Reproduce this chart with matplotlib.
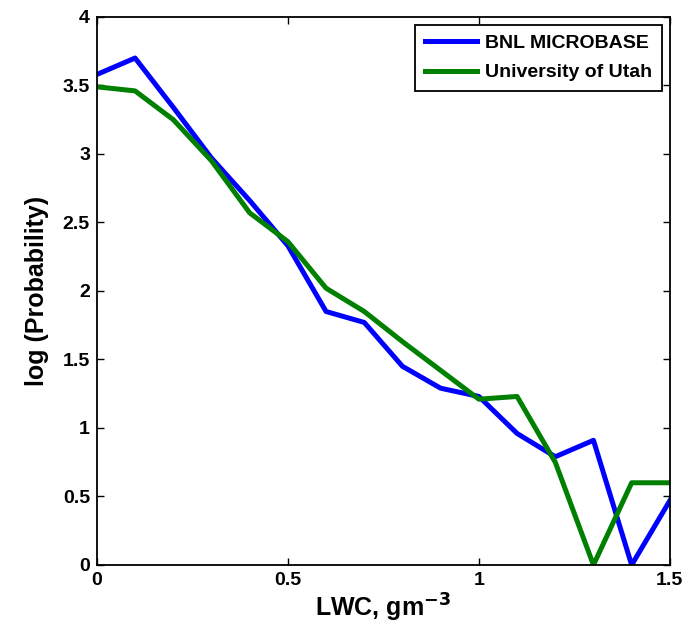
import matplotlib.pyplot as plt
import numpy as np

# LWC bins and log probability for the two retrievals
lwc = [0.0, 0.1, 0.2, 0.3, 0.4, 0.5, 0.6, 0.7, 0.8, 0.9, 1.0, 1.1, 1.2, 1.3, 1.4, 1.5]
bnl = [3.58, 3.70, 3.34, 2.97, 2.66, 2.33, 1.85, 1.77, 1.45, 1.29, 1.23, 0.96, 0.79, 0.91, 0.0, 0.47]
utah = [3.49, 3.46, 3.25, 2.95, 2.57, 2.36, 2.02, 1.85, 1.63, 1.42, 1.21, 1.23, 0.75, 0.0, 0.60, 0.60]

x_ticks = [0, 0.5, 1, 1.5]
x_tick_labels = ['0', '0.5', '1', '1.5']
y_ticks = [0, 0.5, 1, 1.5, 2, 2.5, 3, 3.5, 4]
y_tick_labels = ['0', '0.5', '1', '1.5', '2', '2.5', '3', '3.5', '4']

plt.rcParams['font.family'] = ['Liberation Sans', 'DejaVu Sans']
plt.rcParams['font.weight'] = 'bold'

fig = plt.figure(figsize=(6.92, 6.41), dpi=100)
ax = fig.add_axes([0.140, 0.1186, 0.828, 0.855])

ax.plot(lwc, bnl, color=(0, 0, 1), linewidth=3.6, label='BNL MICROBASE')
ax.plot(lwc, utah, color=(0, 0.5, 0), linewidth=3.6, label='University of Utah')

ax.set_xlim(0, 1.5)
ax.set_ylim(0, 4)
ax.set_xticks(x_ticks)
ax.set_xticklabels(x_tick_labels, fontsize=14, fontweight='bold')
ax.set_yticks(y_ticks)
ax.set_yticklabels(y_tick_labels, fontsize=14, fontweight='bold')
ax.tick_params(direction='in', top=True, right=True, length=5, width=1, pad=5)
for s in ax.spines.values():
    s.set_linewidth(1.3)

ax.set_xlabel('LWC, gm$^{\\mathbf{-3}}$', fontsize=18, fontweight='bold', labelpad=2)
ax.set_ylabel('log (Probability)', fontsize=18, fontweight='bold', labelpad=10)

leg = ax.legend(loc='upper right', fontsize=14, fancybox=False, framealpha=1,
                edgecolor='black', handlelength=2.7, handletextpad=0.4,
                borderpad=0.5, labelspacing=0.6, borderaxespad=0.4)
leg.get_frame().set_linewidth(1.3)
for t in leg.get_texts():
    t.set_fontweight('bold')

plt.savefig('out.png', dpi=100)
